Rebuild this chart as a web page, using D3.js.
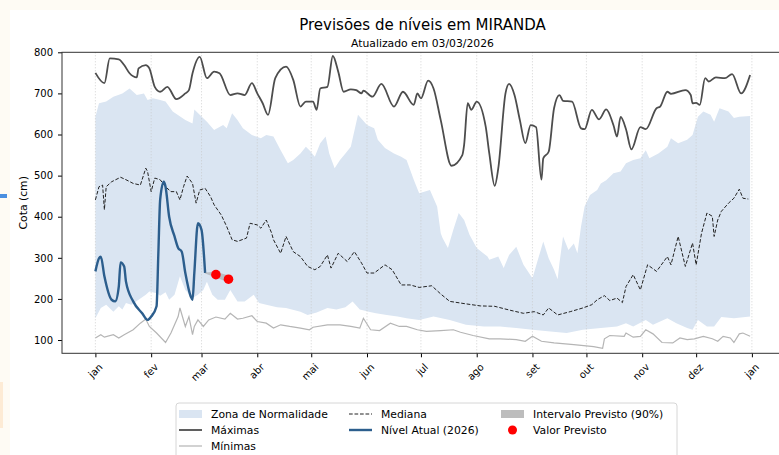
<!DOCTYPE html>
<html>
<head>
<meta charset="utf-8">
<script src="https://cdn.jsdelivr.net/npm/d3@7"></script>
<style>
  body { margin: 0; background: #fefbf4; }
  #plot1 { width: 779px; height: 455px; overflow: hidden; }
</style>
</head>
<body>
<div id="plot1"></div>
<script>
// day of year (0 = 1 jan), value in cm
const maxima = [[0,750],[5,725],[8,785],[13,783],[16,769],[19,749],[23,739],[24,761],[28,769],[30,761],[33,716],[36,704],[40,716],[45,686],[50,700],[52,708],[54,749],[58,789],[62,737],[66,753],[69,749],[75,696],[79,700],[83,696],[87,725],[90,700],[93,676],[96,648],[100,737],[106,765],[110,733],[114,668],[117,680],[121,680],[123,660],[125,712],[129,716],[132,791],[135,753],[138,704],[142,710],[145,708],[148,700],[149,707],[154,692],[159,723],[166,668],[171,704],[177,672],[179,700],[181,688],[185,731],[188,712],[192,635],[198,524],[204,550],[205,575],[207,676],[209,660],[212,680],[217,619],[219,554],[222,475],[224,518],[228,700],[230,723],[233,696],[236,635],[239,579],[242,623],[245,618],[248,490],[249,542],[252,558],[255,664],[258,696],[260,682],[265,680],[270,615],[272,613],[276,660],[280,637],[284,661],[288,623],[290,595],[292,643],[295,613],[298,564],[303,618],[306,613],[312,664],[314,668],[318,704],[320,699],[328,708],[331,696],[332,676],[334,677],[336,672],[339,737],[341,729],[345,739],[350,737],[354,747],[359,700],[364,745]];

const minimas = [[0,105],[3,113],[5,107],[10,113],[13,105],[16,113],[21,125],[25,141],[28,151],[30,133],[34,117],[39,94],[42,117],[46,157],[47,178],[50,133],[52,157],[54,113],[55,133],[57,149],[60,133],[63,149],[67,156],[72,151],[75,165],[79,151],[82,153],[87,159],[90,145],[95,141],[99,129],[103,137],[108,133],[114,129],[119,125],[121,131],[129,137],[136,137],[142,133],[147,129],[149,153],[153,125],[158,123],[164,141],[169,133],[173,133],[179,125],[184,121],[192,123],[199,125],[203,119],[210,111],[219,103],[225,103],[234,101],[239,97],[243,109],[248,97],[255,93],[266,89],[277,84],[282,80],[283,103],[286,111],[294,109],[295,117],[299,107],[303,109],[306,125],[310,115],[315,94],[321,93],[325,105],[329,101],[333,103],[338,109],[343,103],[346,97],[349,109],[353,105],[355,94],[358,115],[360,117],[364,109]];

const zonaTopo = [[0,643],[2,676],[6,680],[10,692],[15,700],[19,712],[23,696],[27,700],[29,684],[32,688],[36,684],[39,680],[43,656],[50,635],[54,627],[55,661],[58,648],[62,631],[66,611],[71,623],[73,615],[76,652],[79,635],[82,615],[87,599],[92,591],[95,599],[99,595],[103,562],[107,530],[110,538],[114,554],[117,570],[119,562],[122,546],[125,579],[128,595],[130,554],[133,518],[136,538],[139,554],[142,570],[146,648],[151,623],[155,615],[157,587],[161,567],[166,554],[170,546],[173,538],[177,490],[180,457],[186,465],[190,425],[192,360],[193,348],[196,324],[199,368],[202,409],[205,392],[208,356],[212,324],[218,303],[219,295],[224,303],[227,275],[230,307],[234,327],[238,283],[243,250],[246,295],[249,340],[252,299],[255,271],[257,248],[258,287],[260,352],[263,319],[266,335],[268,311],[270,376],[272,425],[275,453],[279,465],[281,481],[284,489],[288,506],[292,510],[295,530],[299,538],[303,542],[306,562],[308,542],[313,554],[318,570],[320,591],[324,579],[329,587],[332,599],[335,643],[338,656],[342,648],[344,631],[347,664],[352,656],[355,640],[358,643],[364,645]];

const zonaBase = [[0,153],[3,178],[6,186],[10,169],[13,182],[15,174],[17,190],[20,186],[24,198],[28,210],[30,218],[34,214],[36,208],[39,216],[41,198],[44,210],[47,255],[50,222],[54,202],[57,210],[60,222],[62,242],[65,210],[68,198],[72,198],[75,222],[79,194],[83,194],[88,210],[91,190],[95,186],[101,180],[106,178],[114,169],[118,161],[123,167],[129,178],[134,174],[139,180],[143,194],[147,174],[152,169],[156,165],[162,161],[168,157],[173,153],[180,149],[188,157],[197,149],[206,137],[216,133],[225,133],[234,129],[243,125],[253,121],[262,117],[271,125],[281,129],[290,133],[295,141],[299,133],[306,149],[310,137],[318,153],[323,141],[329,129],[332,125],[335,149],[340,133],[344,133],[348,156],[355,153],[364,157]];

const mediana = [[0,441],[2,473],[4,477],[5,417],[6,473],[9,485],[14,496],[17,490],[21,481],[25,477],[28,518],[29,510],[31,461],[33,494],[36,490],[39,473],[42,461],[45,461],[47,441],[49,473],[51,499],[54,481],[56,433],[58,465],[61,469],[64,449],[66,429],[70,404],[73,376],[76,344],[79,340],[84,348],[86,384],[90,380],[92,372],[95,392],[98,360],[99,344],[103,311],[106,352],[110,315],[114,303],[118,279],[122,271],[125,279],[129,307],[131,275],[135,311],[140,291],[144,315],[148,287],[151,263],[155,263],[161,283],[165,271],[170,234],[175,234],[180,228],[187,232],[192,212],[197,194],[206,188],[214,183],[222,182],[231,172],[238,165],[244,169],[249,161],[252,178],[257,161],[264,169],[271,178],[276,186],[279,198],[283,208],[286,196],[290,202],[293,191],[295,230],[299,259],[303,222],[307,283],[312,267],[318,303],[320,283],[324,352],[328,279],[332,336],[334,283],[337,360],[340,409],[343,401],[344,352],[346,392],[348,413],[352,433],[355,445],[358,467],[360,445],[363,443]];

const nivelAtual = [[0,267],[2,299],[3,303],[5,255],[9,198],[11,194],[13,230],[14,289],[16,279],[17,242],[21,194],[26,165],[29,149],[31,157],[34,182],[35,311],[36,441],[38,485],[39,473],[41,400],[44,352],[46,324],[48,315],[50,263],[53,206],[54,198],[55,263],[57,384],[59,368],[61,263]];

const intervaloDias = [61, 67, 74];
const intervaloBaixo = [262, 252, 240];
const intervaloAlto = [264, 266, 257];
const previstoDias = [67, 74];
const previstoValores = [259, 248];

const mesesInicio = [0, 31, 59, 90, 120, 151, 181, 212, 243, 273, 304, 334, 365];
const mesesNomes = ["jan", "fev", "mar", "abr", "mai", "jun", "jul", "ago", "set", "out", "nov", "dez", "jan"];
const cotaTicks = [100, 200, 300, 400, 500, 600, 700, 800];

const width = 779;
const height = 455;
const axLeft = 62, axRight = 783, axTop = 52.3, axBottom = 353.3;
const font = "DejaVu Sans";

const x = d3.scaleLinear().domain([0, 365]).range([95.4, 751.9]);
const y = d3.scaleLinear().domain([67.7, 800]).range([axBottom, axTop]);

const svg = d3.create("svg")
    .attr("width", width)
    .attr("height", height)
    .attr("viewBox", [0, 0, width, height])
    .style("font-family", font);

// page around the figure
svg.append("rect").attr("width", width).attr("height", height).attr("fill", "#fefbf4");
svg.append("rect").attr("x", 10).attr("y", 10).attr("width", width - 10).attr("height", height - 10).attr("fill", "#fff");
svg.append("rect").attr("x", 0).attr("y", 194).attr("width", 7).attr("height", 4).attr("fill", "#4a8fe0");
svg.append("rect").attr("x", 0).attr("y", 382).attr("width", 3).attr("height", 46).attr("fill", "#fdebd5");

// zona de normalidade: top edge forward, base edge back
const topPath = d3.line(d => x(d[0]), d => y(d[1]))(zonaTopo);
const basePath = d3.line(d => x(d[0]), d => y(d[1]))(zonaBase.slice().reverse());
svg.append("path")
    .attr("d", topPath + "L" + basePath.slice(1) + "Z")
    .attr("fill", "#dae5f2");

// vertical grid
svg.append("g")
  .selectAll("line")
  .data(mesesInicio)
  .join("line")
    .attr("x1", d => x(d)).attr("x2", d => x(d))
    .attr("y1", axTop).attr("y2", axBottom)
    .attr("stroke", "#c8c8c8")
    .attr("stroke-width", 0.8)
    .attr("stroke-dasharray", "1,2");

const line = d3.line(d => x(d[0]), d => y(d[1]));
const smooth = d3.line(d => x(d[0]), d => y(d[1])).curve(d3.curveMonotoneX);
const area = d3.area()
    .x(d => x(d[0]))
    .y0(d => y(d[1]))
    .y1(d => y(d[2]));

svg.append("path").attr("d", line(minimas))
    .attr("fill", "none").attr("stroke", "#b5b5b5").attr("stroke-width", 1.2);

svg.append("path").attr("d", smooth(maxima))
    .attr("fill", "none").attr("stroke", "#4d4d4d").attr("stroke-width", 1.8);

svg.append("path").attr("d", line(mediana))
    .attr("fill", "none").attr("stroke", "#222").attr("stroke-width", 1)
    .attr("stroke-dasharray", "3.7,1.8");

svg.append("path").attr("d", smooth(nivelAtual))
    .attr("fill", "none").attr("stroke", "#2c5e8d").attr("stroke-width", 2.4)
    .attr("stroke-linejoin", "round");

// intervalo previsto
const intervalo = intervaloDias.map((d, i) => [d, intervaloBaixo[i], intervaloAlto[i]]);
svg.append("path").attr("d", area(intervalo))
    .attr("fill", "#9e9e9e").attr("fill-opacity", 0.55);

svg.append("g")
  .selectAll("circle")
  .data(previstoDias)
  .join("circle")
    .attr("cx", d => x(d))
    .attr("cy", (d, i) => y(previstoValores[i]))
    .attr("r", 4.8)
    .attr("fill", "#ff0000");

// axes
const xAxis = svg.append("g")
    .attr("transform", `translate(0,${axBottom})`)
    .call(d3.axisBottom(x).tickValues(mesesInicio).tickFormat((d, i) => mesesNomes[i]).tickSize(4).tickSizeOuter(0));
xAxis.select(".domain").remove();
xAxis.selectAll("text")
    .attr("font-family", font)
    .attr("font-size", "10px")
    .attr("fill", "#000")
    .attr("text-anchor", "end")
    .attr("y", 0).attr("dy", "0.76em")
    .attr("transform", "translate(2,9) rotate(-45)");

const yAxis = svg.append("g")
    .attr("transform", `translate(${axLeft},0)`)
    .call(d3.axisLeft(y).tickValues(cotaTicks).tickSize(4).tickPadding(5));
yAxis.select(".domain").remove();
yAxis.selectAll("text")
    .attr("font-family", font)
    .attr("font-size", "10px")
    .attr("fill", "#000");

svg.append("rect")
    .attr("x", axLeft).attr("y", axTop)
    .attr("width", axRight - axLeft).attr("height", axBottom - axTop)
    .attr("fill", "none").attr("stroke", "#333").attr("stroke-width", 1);

svg.append("text")
    .attr("transform", `translate(27,${(axTop + axBottom) / 2}) rotate(-90)`)
    .attr("text-anchor", "middle")
    .attr("font-size", "10.8px")
    .text("Cota (cm)");

svg.append("text")
    .attr("x", (axLeft + axRight) / 2).attr("y", 30)
    .attr("text-anchor", "middle")
    .attr("font-size", "15px")
    .text("Previsões de níveis em MIRANDA");

svg.append("text")
    .attr("x", (axLeft + axRight) / 2).attr("y", 46.5)
    .attr("text-anchor", "middle")
    .attr("font-size", "10.8px")
    .text("Atualizado em 03/03/2026");

// legend
const legend = svg.append("g").attr("font-size", "10.8px");
legend.append("rect")
    .attr("x", 176).attr("y", 403).attr("width", 501).attr("height", 62).attr("rx", 3)
    .attr("fill", "#fff").attr("fill-opacity", 0.8).attr("stroke", "#d6d6d6");

const items = [
  {col: 179, row: 0, label: "Zona de Normalidade", type: "patch", color: "#dae5f2"},
  {col: 179, row: 1, label: "Máximas", type: "line", color: "#4d4d4d", w: 1.8},
  {col: 179, row: 2, label: "Mínimas", type: "line", color: "#b5b5b5", w: 1.2},
  {col: 349, row: 0, label: "Mediana", type: "dash", color: "#222", w: 1},
  {col: 349, row: 1, label: "Nível Atual (2026)", type: "line", color: "#2c5e8d", w: 2.4},
  {col: 501, row: 0, label: "Intervalo Previsto (90%)", type: "patch", color: "#bdbdbd"},
  {col: 501, row: 1, label: "Valor Previsto", type: "dot", color: "#ff0000"}
];

items.forEach(it => {
  const cy = 414 + it.row * 16;
  if (it.type === "patch") {
    legend.append("rect").attr("x", it.col).attr("y", cy - 4).attr("width", 23).attr("height", 8).attr("fill", it.color);
  } else if (it.type === "dot") {
    legend.append("circle").attr("cx", it.col + 11.5).attr("cy", cy).attr("r", 4.5).attr("fill", it.color);
  } else {
    legend.append("line")
      .attr("x1", it.col).attr("x2", it.col + 23).attr("y1", cy).attr("y2", cy)
      .attr("stroke", it.color).attr("stroke-width", it.w)
      .attr("stroke-dasharray", it.type === "dash" ? "3.7,1.8" : null);
  }
  legend.append("text").attr("x", it.col + 32).attr("y", cy + 3.9).text(it.label);
});

document.querySelector("#plot1").append(svg.node());
</script>
</body>
</html>
